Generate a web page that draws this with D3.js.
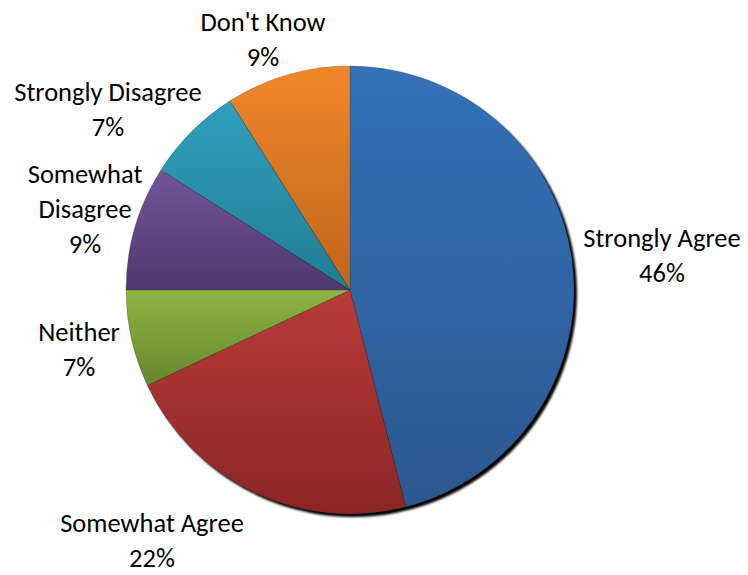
<!DOCTYPE html>
<html>
<head>
<meta charset="utf-8">
<script src="https://cdn.jsdelivr.net/npm/d3@7"></script>
<style>
  html, body { margin: 0; padding: 0; background: #fff; }
  svg { display: block; }
  .lbl { font-family: Calibri, Carlito, Lato, "DejaVu Sans", sans-serif; font-size: 26.5px; fill: #000; }
</style>
</head>
<body>
<svg id="chart" width="748" height="575"></svg>
<script>
// Survey responses, clockwise from 12 o'clock
const categories = ["Strongly Agree", "Somewhat Agree", "Neither", "Somewhat Disagree", "Strongly Disagree", "Don't Know"];
const percents = [46, 22, 7, 9, 7, 9];

// Label text broken into lines
const labelLines = [
  ["Strongly Agree"],
  ["Somewhat Agree"],
  ["Neither"],
  ["Somewhat", "Disagree"],
  ["Strongly Disagree"],
  ["Don't Know"]
];

// Slice fills: light top colour and dark bottom colour
const topColors = ["#3571b6", "#b93b38", "#8eb443", "#72569c", "#30a0be", "#f1872a"];
const bottomColors = ["#2a5891", "#8a2626", "#66872e", "#4e376b", "#227c94", "#bf651b"];

// Label anchor (centre x, first baseline) relative to the pie centre (layout)
const labelOffsets = [
  [312, -43], [-198, 242], [-271, 51], [-265, -107], [-242, -189], [-87, -259]
];

const width = 748, height = 575;
const cx = 350, cy = 290, radius = 224;
const lineGap = 35;

const svg = d3.select("#chart");
const defs = svg.append("defs");

// Soft drop shadow under the pie
const blur = defs.append("filter").attr("id", "pieShadow")
  .attr("x", "-10%").attr("y", "-10%").attr("width", "120%").attr("height", "120%");
blur.append("feGaussianBlur").attr("stdDeviation", 1.2);

categories.forEach((c, i) => {
  const g = defs.append("linearGradient").attr("id", "grad" + i)
    .attr("x1", 0).attr("y1", 0).attr("x2", 0).attr("y2", 1);
  g.append("stop").attr("offset", "0%").attr("stop-color", topColors[i]);
  g.append("stop").attr("offset", "100%").attr("stop-color", bottomColors[i]);
});

const data = categories.map((c, i) => ({ name: c, value: percents[i], lines: labelLines[i], idx: i }));

const pie = d3.pie().value(d => d.value).sort(null);
const arc = d3.arc().innerRadius(0).outerRadius(radius);
const arcs = pie(data);

const root = svg.append("g").attr("transform", `translate(${cx},${cy})`);

// shadow disc
root.append("circle")
  .attr("cx", 3).attr("cy", 3).attr("r", radius)
  .attr("fill", "#000")
  .attr("filter", "url(#pieShadow)");

root.selectAll("path.slice")
  .data(arcs)
  .join("path")
  .attr("class", "slice")
  .attr("d", arc)
  .attr("fill", d => `url(#grad${d.data.idx})`)
  .attr("stroke", "rgba(40,40,40,0.35)")
  .attr("stroke-width", 0.6);

// data labels: category lines followed by the percentage
const labels = root.selectAll("g.label")
  .data(arcs)
  .join("g")
  .attr("class", "label")
  .attr("transform", d => `translate(${labelOffsets[d.data.idx][0]},${labelOffsets[d.data.idx][1]})`);

labels.each(function(d) {
  const lines = d.data.lines.concat([d.data.value + "%"]);
  const t = d3.select(this).append("text")
    .attr("class", "lbl")
    .attr("text-anchor", "middle");
  lines.forEach((ln, k) => {
    t.append("tspan")
      .attr("x", 0)
      .attr("y", k * lineGap)
      .text(ln);
  });
});
</script>
</body>
</html>
